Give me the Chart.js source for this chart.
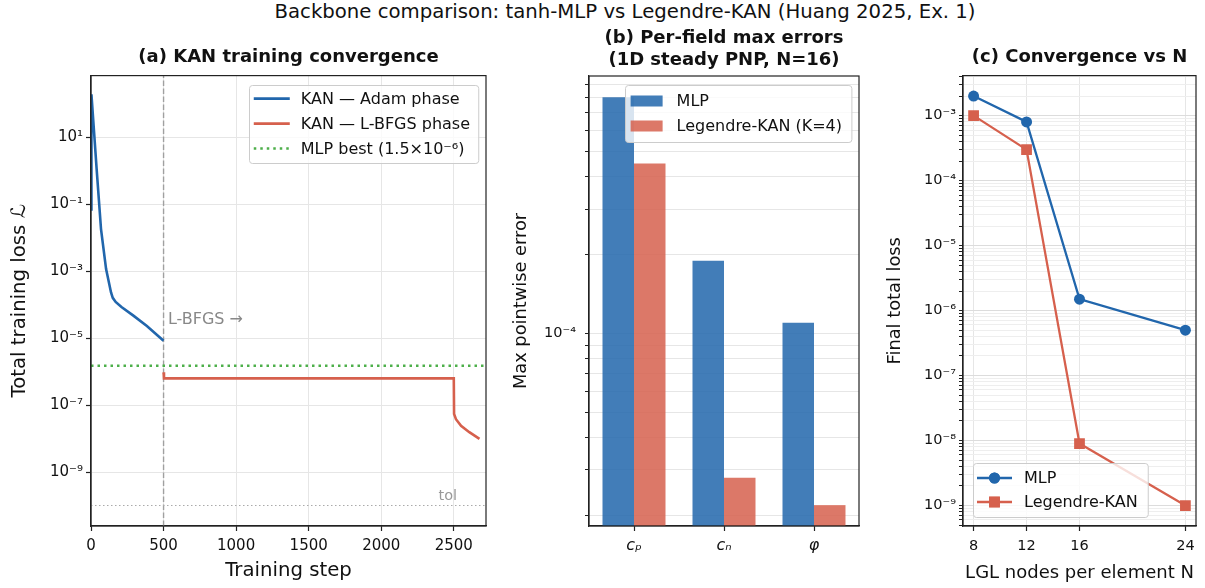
<!DOCTYPE html>
<html>
<head>
<meta charset="utf-8">
<script src="https://cdn.jsdelivr.net/npm/chart.js@4.4.1/dist/chart.umd.min.js"></script>
<style>
  body { margin: 0; background: #fff; }
  #wrap { position: relative; width: 1205px; height: 588px; overflow: hidden; font-family: 'DejaVu Sans'; }
  #sup { position: absolute; left: 0; width: 1250px; top: 0px; text-align: center; font-size: 19.7px; color: #111; }
  canvas { position: absolute; top: 0; }
</style>
</head>
<body>
<div id="wrap">
  <div id="sup">Backbone comparison: tanh-MLP vs Legendre-KAN (Huang 2025, Ex. 1)</div>
  <canvas id="cA" width="500" height="588" style="left:0px"></canvas>
  <canvas id="cB" width="370" height="588" style="left:500px"></canvas>
  <canvas id="cC" width="335" height="588" style="left:870px"></canvas>
</div>
<script>
// ---- panel (a): KAN training loss history
const adamSteps = [0, 3, 39, 69, 104, 138, 150, 170, 210, 292, 385, 500];
const adamLoss = [0.07, 190, 1.1, 0.018, 1.15e-3, 2.3e-4, 1.6e-4, 1.2e-4, 8.5e-5, 4.7e-5, 2.3e-5, 8.3e-6];
const lbfgsSteps = [500, 503, 2500, 2502, 2515, 2550, 2607, 2677];
const lbfgsLoss = [9.5e-7, 6.3e-7, 6.3e-7, 5.4e-8, 3.8e-8, 2.4e-8, 1.55e-8, 9.8e-9];
const mlpBest = 1.5e-6;
const tol = 1e-10;
const switchStep = 500;
const stepTicks = [0, 500, 1000, 1500, 2000, 2500];
const lossTickExp = [-9, -7, -5, -3, -1, 1];

// ---- panel (b): per-field max errors
const fields = ['cₚ', 'cₙ', 'φ'];
const mlpErr = [8.05e-4, 1.9e-4, 1.1e-4];
const kanErr = [4.48e-4, 2.8e-5, 2.2e-5];

// ---- panel (c): convergence vs N
const nodesN = [8, 12, 16, 24];
const mlpFinal = [2e-3, 8e-4, 1.5e-6, 5e-7];
const kanFinal = [1e-3, 3e-4, 9e-9, 1e-9];

const BLUE = '#2166ac';
const RED = '#d6604d';
const GREEN = '#4daf4a';
const FONT = 'DejaVu Sans';
const TXT = '#111';
const GRID = '#e6e6e6';
const AXIS = '#222';

Chart.defaults.font.family = FONT;
Chart.defaults.color = TXT;
Chart.defaults.animation = false;

const SUP = { '-': '⁻', '0': '⁰', '1': '¹', '2': '²', '3': '³', '4': '⁴', '5': '⁵', '6': '⁶', '7': '⁷', '8': '⁸', '9': '⁹' };
function powLabel(v) {
  const e = Math.round(Math.log10(v));
  return '10' + String(e).split('').map(c => SUP[c]).join('');
}
function isDecade(v) {
  const l = Math.log10(v);
  return Math.abs(l - Math.round(l)) < 1e-6;
}
// all 1..9 x 10^k ticks inside [lo, hi]
function logTicks(lo, hi) {
  const out = [];
  for (let k = Math.floor(Math.log10(lo)); k <= Math.ceil(Math.log10(hi)); k++) {
    for (let m = 1; m <= 9; m++) {
      const v = m * Math.pow(10, k);
      if (v >= lo && v <= hi) out.push(v);
    }
  }
  return out;
}
const xy = (xs, ys) => xs.map((x, i) => ({ x: x, y: ys[i] }));

// spines all round the axes
const framePlugin = {
  id: 'frame',
  afterDatasetsDraw(chart) {
    const { ctx, chartArea: a } = chart;
    ctx.save();
    ctx.strokeStyle = AXIS;
    ctx.lineWidth = 1.2;
    ctx.strokeRect(a.left, a.top, a.right - a.left, a.bottom - a.top);
    ctx.restore();
  }
};

// matplotlib-like legend box drawn inside the axes
const boxLegend = {
  id: 'boxLegend',
  afterDraw(chart, args, o) {
    if (!o || !o.corner) return;
    const items = chart.data.datasets.filter(d => d.label);
    const { ctx, chartArea: a } = chart;
    ctx.save();
    ctx.font = o.fontSize + 'px "' + FONT + '"';
    const textW = Math.max(...items.map(d => ctx.measureText(d.label).width));
    const w = o.pad + o.sample + o.gap + textW + o.padR;
    const h = items.length * o.row + o.padY * 2;
    const x = o.corner[1] === 'r' ? a.right - o.dx - w : a.left + o.dx;
    const y = o.corner[0] === 'u' ? a.top + o.dy : a.bottom - o.dy - h;
    ctx.fillStyle = 'rgba(255,255,255,0.8)';
    ctx.strokeStyle = '#cccccc';
    ctx.lineWidth = 1;
    ctx.beginPath();
    ctx.roundRect(Math.round(x) + 0.5, Math.round(y) + 0.5, w, h, 3);
    ctx.fill();
    ctx.stroke();
    items.forEach((d, i) => {
      const cy = y + o.padY + o.row * (i + 0.5);
      const sx = x + o.pad;
      if (chart.config.type === 'bar') {
        ctx.fillStyle = d.backgroundColor;
        ctx.fillRect(sx, cy - 5.5, o.sample, 11);
      } else {
        ctx.strokeStyle = d.borderColor;
        ctx.lineWidth = d.borderWidth;
        ctx.setLineDash(d.borderDash || []);
        ctx.beginPath();
        ctx.moveTo(sx, cy);
        ctx.lineTo(sx + o.sample, cy);
        ctx.stroke();
        ctx.setLineDash([]);
        if (d.pointRadius) {
          ctx.fillStyle = d.borderColor;
          Chart.helpers.drawPoint(ctx, { pointStyle: d.pointStyle, radius: d.pointRadius, borderWidth: 0 }, sx + o.sample / 2, cy);
          ctx.fill();
        }
      }
      ctx.fillStyle = TXT;
      ctx.textBaseline = 'middle';
      ctx.textAlign = 'left';
      ctx.fillText(d.label, sx + o.sample + o.gap, cy + 1);
    });
    ctx.restore();
  }
};

// text notes of panel (a)
const notesPlugin = {
  id: 'notes',
  afterDatasetsDraw(chart) {
    const { ctx, scales: { x, y } } = chart;
    ctx.save();
    ctx.font = '16px "' + FONT + '"';
    ctx.fillStyle = '#888';
    ctx.textBaseline = 'middle';
    ctx.fillText('L-BFGS →', x.getPixelForValue(switchStep + 30), y.getPixelForValue(3.5e-5));
    ctx.font = '14.5px "' + FONT + '"';
    ctx.fillStyle = '#999';
    ctx.textAlign = 'right';
    ctx.fillText('tol', x.getPixelForValue(2523), y.getPixelForValue(tol * 1.9));
    ctx.restore();
  }
};

function titleOpts(text, top, bottom, lh) {
  return {
    display: true, text: text, fullSize: false, color: TXT,
    font: { size: 18, weight: 'bold', lineHeight: lh || 1.2 },
    padding: { top: top, bottom: bottom }
  };
}
const tickFontA = { size: 15 };
const tickFont = { size: 14.5 };

// ---------- (a)
const aMin = 2.45e-11, aMax = 692;
new Chart(document.getElementById('cA'), {
  type: 'line',
  data: {
    datasets: [
      { label: 'KAN — Adam phase', data: xy(adamSteps, adamLoss), borderColor: BLUE, borderWidth: 2.6, pointRadius: 0, order: 1 },
      { label: 'KAN — L-BFGS phase', data: xy(lbfgsSteps, lbfgsLoss), borderColor: RED, borderWidth: 2.6, pointRadius: 0, order: 0 },
      { label: 'MLP best (1.5×10⁻⁶)', data: [{ x: 0, y: mlpBest }, { x: 2722, y: mlpBest }], borderColor: GREEN, borderWidth: 2.5, borderDash: [2.5, 4], pointRadius: 0, order: 2 },
      { data: [{ x: 0, y: tol }, { x: 2722, y: tol }], borderColor: '#aaa', borderWidth: 1.1, borderDash: [1.5, 2.5], pointRadius: 0, order: 3 },
      { data: [{ x: switchStep, y: aMin }, { x: switchStep, y: aMax }], borderColor: '#a0a0a0', borderWidth: 1.4, borderDash: [5.5, 2.5], pointRadius: 0, order: 4 }
    ]
  },
  options: {
    responsive: false,
    layout: { padding: { left: 0, right: 14, top: 0, bottom: 0 } },
    plugins: {
      legend: { display: false },
      tooltip: { enabled: false },
      title: titleOpts('(a) KAN training convergence', 47, 7),
      boxLegend: { corner: 'ur', dx: 8, dy: 9, pad: 5, padR: 8, sample: 36, gap: 11, row: 25, padY: 1.5, fontSize: 16 }
    },
    scales: {
      x: {
        type: 'linear', min: 0, max: 2722,
        afterBuildTicks: s => { s.ticks = stepTicks.map(v => ({ value: v })); },
        afterFit: s => { s.height = 62; },
        ticks: { font: tickFontA, color: TXT, padding: 6, maxRotation: 0, autoSkip: false, callback: v => String(v) },
        grid: { color: GRID, tickColor: AXIS, tickLength: 5, tickWidth: 1.2 },
        border: { color: AXIS, width: 1.2 },
        title: { display: true, text: 'Training step', color: TXT, font: { size: 19.7 }, padding: { top: 0, bottom: 5 } }
      },
      y: {
        type: 'logarithmic', min: aMin, max: aMax,
        afterBuildTicks: s => { s.ticks = lossTickExp.map(e => ({ value: Math.pow(10, e) })); },
        afterFit: s => { s.width = 91; },
        ticks: { font: tickFontA, color: TXT, padding: 3, autoSkip: false, callback: v => powLabel(v) },
        grid: { color: GRID, tickColor: AXIS, tickLength: 5, tickWidth: 1.2 },
        border: { color: AXIS, width: 1.2 },
        title: { display: true, text: 'Total training loss ℒ', color: TXT, font: { size: 19.7 }, padding: { top: 8, bottom: 0 } }
      }
    }
  },
  plugins: [framePlugin, boxLegend, notesPlugin]
});

// ---------- (b)
const bMin = 1.83e-5, bMax = 9.7e-4;
new Chart(document.getElementById('cB'), {
  type: 'bar',
  data: {
    labels: fields,
    datasets: [
      { label: 'MLP', data: mlpErr, backgroundColor: 'rgba(33,102,172,0.85)', barPercentage: 1, categoryPercentage: 0.7 },
      { label: 'Legendre-KAN (K=4)', data: kanErr, backgroundColor: 'rgba(214,96,77,0.85)', barPercentage: 1, categoryPercentage: 0.7 }
    ]
  },
  options: {
    responsive: false,
    layout: { padding: { left: 0, right: 11, top: 0, bottom: 0 } },
    plugins: {
      legend: { display: false },
      tooltip: { enabled: false },
      title: titleOpts(['(b) Per-field max errors', '(1D steady PNP, N=16)'], 27, 5, 22 / 18),
      boxLegend: { corner: 'ur', dx: 8, dy: 9, pad: 6, padR: 9, sample: 32, gap: 14, row: 25, padY: 3.5, fontSize: 16 }
    },
    scales: {
      x: {
        afterFit: s => { s.height = 62; },
        ticks: { font: { size: 16, style: 'italic' }, color: TXT, padding: 5 },
        grid: { display: true, drawOnChartArea: false, offset: false, tickColor: AXIS, tickLength: 5, tickWidth: 1.2 },
        border: { color: AXIS, width: 1.2 }
      },
      y: {
        type: 'logarithmic', min: bMin, max: bMax,
        afterBuildTicks: s => { s.ticks = logTicks(bMin, bMax).map(v => ({ value: v })); },
        afterFit: s => { s.width = 89; },
        ticks: { font: tickFont, color: TXT, padding: 9, autoSkip: false, callback: v => (isDecade(v) ? powLabel(v) : '') },
        grid: { color: GRID, tickColor: AXIS, tickLength: 4, tickWidth: 1 },
        border: { color: AXIS, width: 1.2 },
        title: { display: true, text: 'Max pointwise error', color: TXT, font: { size: 17.8 }, padding: { top: 10.5, bottom: 0 } }
      }
    }
  },
  plugins: [framePlugin, boxLegend]
});

// ---------- (c)
const cMin = 4.84e-10, cMax = 4.13e-3;
new Chart(document.getElementById('cC'), {
  type: 'line',
  data: {
    datasets: [
      { label: 'MLP', data: xy(nodesN, mlpFinal), borderColor: BLUE, backgroundColor: BLUE, borderWidth: 2.3, pointStyle: 'circle', pointRadius: 5.5, pointBorderWidth: 0 },
      { label: 'Legendre-KAN', data: xy(nodesN, kanFinal), borderColor: RED, backgroundColor: RED, borderWidth: 2.3, pointStyle: 'rect', pointRadius: 7.6, pointBorderWidth: 0 }
    ]
  },
  options: {
    responsive: false,
    layout: { padding: { left: 0, right: 9, top: 0, bottom: 0 } },
    plugins: {
      legend: { display: false },
      tooltip: { enabled: false },
      title: titleOpts('(c) Convergence vs N', 47, 7),
      boxLegend: { corner: 'll', dx: 10, dy: 9, pad: 4, padR: 10, sample: 35, gap: 12, row: 24, padY: 3, fontSize: 16 }
    },
    scales: {
      x: {
        type: 'linear', min: 7.2, max: 24.8,
        afterBuildTicks: s => { s.ticks = nodesN.map(v => ({ value: v })); },
        afterFit: s => { s.height = 62; },
        ticks: { font: tickFont, color: TXT, padding: 7, maxRotation: 0, autoSkip: false, callback: v => String(v) },
        grid: { color: GRID, tickColor: AXIS, tickLength: 5, tickWidth: 1.2 },
        border: { color: AXIS, width: 1.2 },
        title: { display: true, text: 'LGL nodes per element N', color: TXT, font: { size: 18 }, padding: { top: 0, bottom: 3.5 } }
      },
      y: {
        type: 'logarithmic', min: cMin, max: cMax,
        afterBuildTicks: s => { s.ticks = logTicks(cMin, cMax).map(v => ({ value: v })); },
        afterFit: s => { s.width = 93; },
        ticks: { font: tickFont, color: TXT, padding: 3, autoSkip: false, callback: v => (isDecade(v) ? powLabel(v) : '') },
        grid: { color: c => (isDecade(c.tick.value) ? '#dcdcdc' : '#eeeeee'), tickColor: AXIS, tickLength: 4, tickWidth: 1 },
        border: { color: AXIS, width: 1.2 },
        title: { display: true, text: 'Final total loss', color: TXT, font: { size: 17.8 }, padding: { top: 14.3, bottom: 0 } }
      }
    }
  },
  plugins: [framePlugin, boxLegend]
});
</script>
</body>
</html>
